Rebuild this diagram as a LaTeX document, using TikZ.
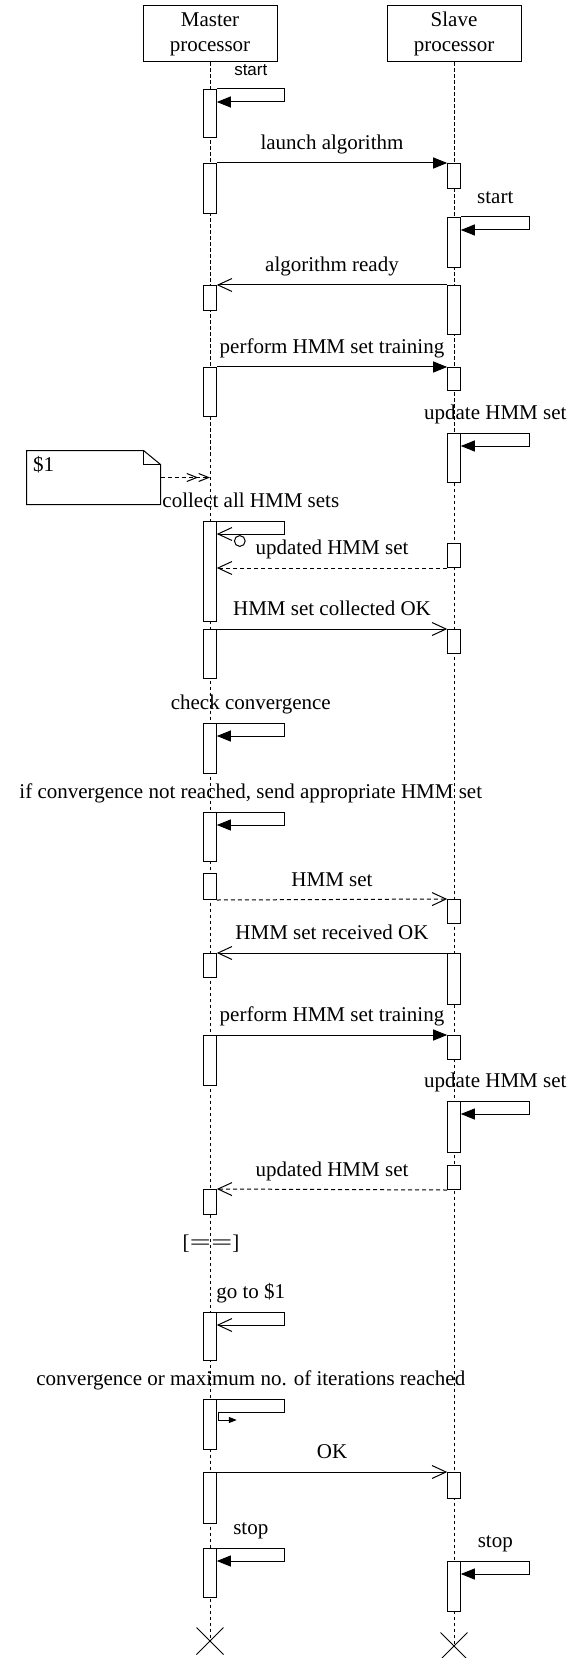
\documentclass[tikz,border=0pt]{standalone}
\usepackage{fontspec}
\setmainfont{Liberation Serif}
\newfontfamily\labsans{Liberation Sans}
\usetikzlibrary{arrows.meta,shapes.misc}
\tikzset{
	lifeline/.style={dash pattern=on 1.6pt off 1.4pt},
	actbar/.style={draw,fill=white,anchor=north,minimum width=6.3pt,inner sep=0pt},
	head/.style={draw,align=center,minimum width=67pt,minimum height=28pt,inner sep=0pt},
	call/.style={-{Triangle[length=7pt,width=5.5pt]}},
	reply/.style={-{Straight Barb[length=7pt,width=6.5pt]}},
	back/.style={reply,dash pattern=on 2pt off 1.5pt},
	notelink/.style={-{Straight Barb[length=5pt,width=4pt]Straight Barb[length=5pt,width=4pt]},dash pattern=on 2pt off 1.5pt},
	lbl/.style={anchor=base,yshift=6.7pt},
	stopx/.style={draw,cross out,minimum size=13pt,inner sep=0pt}
}
\begin{document}
\begin{tikzpicture}[x=0.5pt,y=-0.5pt,line width=0.5pt,font=\fontsize{10.5}{12.5}\selectfont]
		\useasboundingbox (0,0) rectangle (578,1658);
		\node[head] (master) at (210,34) {Master\\processor};
		\node[head] (slave) at (454,34) {Slave\\processor};
		\node[stopx] (mend) at (210,1641) {};
		\node[stopx] (send) at (454,1646) {};
		\draw[lifeline] (master.south) -- (mend.center) (slave.south) -- (send.center);
		\foreach \n/\x/\a/\b in {m1/210/89/137,m2/210/163/213,m3/210/285/310,m4/210/367/416,m5/210/521/621,m6/210/629/678,m7/210/723/773,m8/210/812/861,m9/210/873/899,m10/210/953/977,m11/210/1035/1085,m12/210/1189/1214,m13/210/1312/1360,m14/210/1399/1449,m15/210/1472/1523,m16/210/1548/1597,s1/454/163/188,s2/454/217/267,s3/454/285/334,s4/454/367/390,s5/454/433/482,s6/454/543/567,s7/454/629/653,s8/454/899/923,s9/454/953/1004,s10/454/1035/1059,s11/454/1101/1152,s12/454/1165/1189,s13/454/1472/1498,s14/454/1561/1611}
			\node[actbar,minimum height={(\b-\a)*0.5pt}] (\n) at (\x,\a) {};
		\draw[call] (m1.north east) -- ++(68,0) node[lbl,midway,font=\labsans\fontsize{8.5}{10}\selectfont]{start} -- ++(0,13) -- ++(-68,0);
		\draw[call] (m2.north east) -- (s1.north west) node[lbl,midway]{launch algorithm};
		\draw[call] (s2.north east) -- ++(69,0) node[lbl,midway]{start} -- ++(0,13) -- ++(-69,0);
		\draw[reply] (s3.north west) -- (m3.north east) node[lbl,midway]{algorithm ready};
		\draw[call] (m4.north east) -- (s4.north west) node[lbl,midway]{perform HMM set training};
		\draw[call] (s5.north east) -- ++(69,0) node[lbl,midway]{update HMM set} -- ++(0,13) -- ++(-69,0);
		\node[minimum width=66.5pt,minimum height=26.5pt,inner sep=0pt] (note) at (93.5,477.5) {};
		\draw (note.north west) -- ([xshift=-8.5pt]note.north east) -- ([yshift=-7pt]note.north east) -- (note.south east) -- (note.south west) -- cycle;
		\draw ([xshift=-8.5pt]note.north east) |- ([yshift=-7pt]note.north east);
		\node[anchor=base west,inner sep=0pt] (notetext) at ([shift={(6,21)}]note.north west) {\$1};
		\draw[notelink] (note.east) -- (note.east -| master.south);
		\draw[reply] (m5.north east) -- ++(68,0) node[lbl,midway]{collect all HMM sets} -- ++(0,13) -- ++(-68,0);
		\draw ([shift={(23,20)}]m5.north east) circle[radius=2.7pt];
		\draw[back] (s6.south west) -- (s6.south west -| m5.east) node[lbl,midway]{updated HMM set};
		\draw[reply] (m6.north east) -- (s7.north west) node[lbl,midway]{HMM set collected OK};
		\draw[call] (m7.north east) -- ++(68,0) node[lbl,midway]{check convergence} -- ++(0,13) -- ++(-68,0);
		\draw[call] (m8.north east) -- ++(68,0) node[lbl,midway]{if convergence not reached, send appropriate HMM set} -- ++(0,13) -- ++(-68,0);
		\draw[back] (m9.south east) -- (s8.north west) node[lbl,midway]{HMM set};
		\draw[reply] (s9.north west) -- (m10.north east) node[lbl,midway]{HMM set received OK};
		\draw[call] (m11.north east) -- (s10.north west) node[lbl,midway]{perform HMM set training};
		\draw[call] (s11.north east) -- ++(69,0) node[lbl,midway]{update HMM set} -- ++(0,13) -- ++(-69,0);
		\draw[back] (s12.south west) -- (m12.north east) node[lbl,midway]{updated HMM set};
		\node (gap) at (211,1244) {[\scalebox{1.8}[1]{==}]};
		\draw[reply] (m13.north east) -- ++(68,0) node[lbl,midway]{go to \$1} -- ++(0,13) -- ++(-68,0);
		\draw[-{Triangle[length=4pt,width=3pt]}] (m14.north east) -- ++(68,0) node[lbl,midway]{convergence or maximum no. of iterations reached} -- ++(0,13) -- ++(-66,0) -- ++(0,8) -- ++(18,0);
		\draw[reply] (m15.north east) -- (s13.north west) node[lbl,midway]{OK};
		\draw[call] (m16.north east) -- ++(68,0) node[lbl,midway]{stop} -- ++(0,13) -- ++(-68,0);
		\draw[call] (s14.north east) -- ++(69,0) node[lbl,midway]{stop} -- ++(0,13) -- ++(-69,0);
	\end{tikzpicture}
\end{document}
